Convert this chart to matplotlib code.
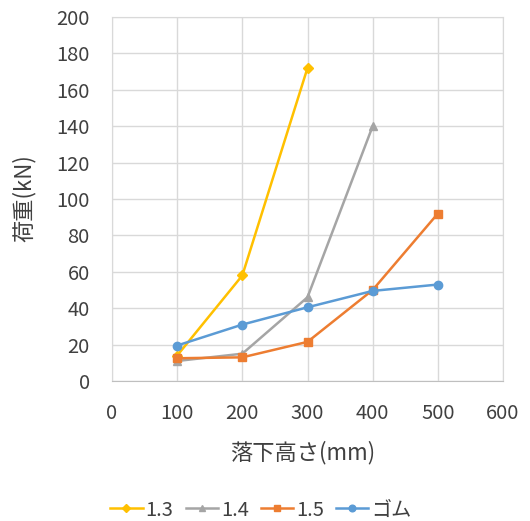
import matplotlib
matplotlib.use("Agg")
import matplotlib.pyplot as plt

plt.rcParams["font.family"] = ["Noto Sans CJK JP", "DejaVu Sans"]

# drop height (mm) and load (kN) per series
x_13 = [100, 200, 300]
y_13 = [14, 58, 172]
x_14 = [100, 200, 300, 400]
y_14 = [11, 15, 46, 140]
x_15 = [100, 200, 300, 400, 500]
y_15 = [12.5, 13, 21.5, 50, 92]
x_rub = [100, 200, 300, 400, 500]
y_rub = [19.5, 31, 40.5, 49.5, 53]

SERIES = [
    (x_13, y_13, "1.3", "#FFC000", "D", 5),
    (x_14, y_14, "1.4", "#A5A5A5", "^", 6),
    (x_15, y_15, "1.5", "#ED7D31", "s", 6),
    (x_rub, y_rub, "ゴム", "#5B9BD5", "o", 6),
]
TXT = "#404040"

W, H = 530, 521
fig = plt.figure(figsize=(W / 100, H / 100), dpi=100)
ax = fig.add_axes([112 / W, 1 - 381 / H, 391 / W, 364 / H])

for xs, ys, lab, col, mk, ms in SERIES:
    ax.plot(xs, ys, color=col, marker=mk, markersize=ms, lw=1.8, label=lab, zorder=3)

ax.set_xlim(0, 600)
ax.set_ylim(0, 200)
ax.set_xticks(range(0, 601, 100))
ax.set_yticks(range(0, 201, 20))
ax.grid(True, color="#D9D9D9", lw=1.0)
for s in ax.spines.values():
    s.set_color("#D9D9D9")
ax.spines["bottom"].set_color("#BFBFBF")
ax.tick_params(length=0, labelsize=14.5, colors=TXT)
ax.tick_params(axis="y", pad=16)
ax.tick_params(axis="x", pad=16)
ax.set_axisbelow(True)

fig.text(303 / W, 1 - 453 / H, "落下高さ(mm)", fontsize=16, color=TXT, ha="center", va="center")
fig.text(24 / W, 1 - 198 / H, "荷重(kN)", fontsize=16, color=TXT, ha="center", va="center",
         rotation=90)

fig.legend(loc="center", bbox_to_anchor=(261 / W, 1 - 510 / H), ncol=4, frameon=False,
           fontsize=14.5, handlelength=1.6, handletextpad=0.15, columnspacing=0.6,
           markerscale=0.8, labelcolor=TXT)

fig.savefig("out.png", dpi=100)
